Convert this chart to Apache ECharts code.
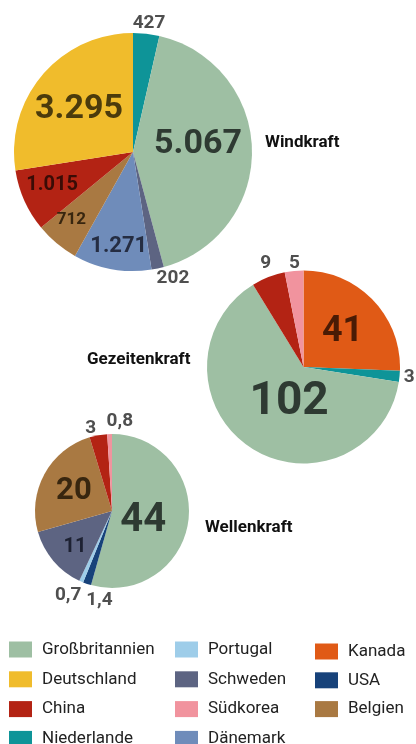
<!DOCTYPE html>
<html>
<head>
<meta charset="utf-8">
<script src="https://cdn.jsdelivr.net/npm/echarts@6/dist/echarts.min.js"></script>
<style>
  html, body { margin: 0; padding: 0; background: #fff; }
  #chart { width: 416px; height: 744px; }
</style>
</head>
<body>
<div id="chart"></div>
<script>
// Installed capacity by country (MW) for wind, tidal and wave power
const windCountries = ['Niederlande', 'Großbritannien', 'Schweden', 'Dänemark', 'Belgien', 'China', 'Deutschland'];
const windValues = [427, 5067, 202, 1271, 712, 1015, 3295];
const windLabels = ['427', '5.067', '202', '1.271', '712', '1.015', '3.295'];

const tidalCountries = ['Kanada', 'Niederlande', 'Großbritannien', 'China', 'Südkorea'];
const tidalValues = [41, 3, 102, 9, 5];
const tidalLabels = ['41', '3', '102', '9', '5'];

const waveCountries = ['Großbritannien', 'USA', 'Portugal', 'Schweden', 'Belgien', 'China', 'Südkorea'];
const waveValues = [44, 1.4, 0.7, 11, 20, 3, 0.8];
const waveLabels = ['44', '1,4', '0,7', '11', '20', '3', '0,8'];

const legendCol1 = ['Großbritannien', 'Deutschland', 'China', 'Niederlande'];
const legendCol2 = ['Portugal', 'Schweden', 'Südkorea', 'Dänemark'];
const legendCol3 = ['Kanada', 'USA', 'Belgien'];

const colors = {
  'Großbritannien': '#9ebfa3',
  'Deutschland': '#f0bc2c',
  'China': '#b32314',
  'Niederlande': '#0e9498',
  'Portugal': '#9ecde9',
  'Schweden': '#5d6482',
  'Südkorea': '#f1939e',
  'Dänemark': '#6f8cba',
  'Kanada': '#e05a16',
  'USA': '#17427a',
  'Belgien': '#a97942'
};
// darker tone used for numbers printed on a slice
const inkColors = {
  'Großbritannien': '#2e3a32',
  'Deutschland': '#4b3b0c',
  'China': '#3a0c06',
  'Dänemark': '#252d42',
  'Belgien': '#38260f',
  'Kanada': '#4a1b05',
  'Schweden': '#1d2132'
};

const FONT = 'Roboto, "Liberation Sans", sans-serif';

// label placement: [radius factor, angle shift in degrees, font size, inside?]
const windPlace = [[1.09, -0.7, 19, false], [0.55, 5.9, 34, true], [1.11, 5.6, 19, false], [0.8, 1.5, 22, true], [0.77, -2.3, 17, true], [0.735, -1.7, 20, true], [0.58, 2, 34, true]];
const tidalPlace = [[0.545, -1.8, 36, true], [1.1, 0.3, 19, false], [0.4, 11.9, 46, true], [1.144, -1.3, 19, false], [1.08, -0.7, 19, false]];
const wavePlace = [[0.426, -9.5, 40, true], [1.17, 10.9, 19, false], [1.23, -4, 19, false], [0.675, 4.2, 20, true], [0.56, 0.7, 31, true], [1.11, 4.2, 19, false], [1.164, -6.8, 19, false]];

const pies = [
  { names: windCountries, values: windValues, labels: windLabels, place: windPlace, center: [133, 152], radius: 119 },
  { names: tidalCountries, values: tidalValues, labels: tidalLabels, place: tidalPlace, center: [303.5, 367], radius: 96.5 },
  { names: waveCountries, values: waveValues, labels: waveLabels, place: wavePlace, center: [112, 511], radius: 77 }
];

// mid angle (degrees, counter-clockwise from +x) of each slice, laid out clockwise from 12 o'clock
function midAngles(values) {
  const total = values.reduce((a, b) => a + b, 0);
  let start = 90;
  return values.map(v => {
    const span = v / total * 360;
    const mid = start - span / 2;
    start -= span;
    return mid;
  });
}

const series = pies.map(p => {
  const mids = midAngles(p.values);
  return {
    type: 'pie',
    center: p.center,
    radius: [0, p.radius],
    startAngle: 90,
    clockwise: true,
    avoidLabelOverlap: false,
    animation: false,
    silent: true,
    labelLine: { show: false },
    itemStyle: { borderWidth: 0 },
    data: p.names.map((n, i) => {
      const pl = p.place[i];
      return {
        name: n,
        value: p.values[i],
        itemStyle: { color: colors[n] },
        label: {
          show: true,
          position: 'inside',
          formatter: p.labels[i],
          fontFamily: FONT,
          fontWeight: 'bold',
          fontSize: pl[2],
          color: pl[3] ? inkColors[n] : '#4f4f4f'
        }
      };
    }),
    labelLayout: function (params) {
      const pl = p.place[params.dataIndex];
      const a = (mids[params.dataIndex] + pl[1]) * Math.PI / 180;
      return {
        x: p.center[0] + pl[0] * p.radius * Math.cos(a),
        y: p.center[1] - pl[0] * p.radius * Math.sin(a),
        align: 'center',
        verticalAlign: 'middle'
      };
    }
  };
});

const legendBase = {
  orient: 'vertical',
  icon: 'rect',
  itemWidth: 23,
  itemHeight: 16,
  itemGap: 12.8,
  height: 110,
  selectedMode: false,
  textStyle: { fontFamily: FONT, fontSize: 17, lineHeight: 16, color: '#222', padding: [0, 0, 0, 5] },
  padding: 0
};

const chart = echarts.init(document.getElementById('chart'), null, { renderer: 'canvas' });
chart.setOption({
  backgroundColor: '#fff',
  animation: false,
  legend: [
    Object.assign({}, legendBase, { data: legendCol1, left: 9, top: 641 }),
    Object.assign({}, legendBase, { data: legendCol2, left: 175, top: 641 }),
    Object.assign({}, legendBase, { data: legendCol3, left: 315, top: 643, itemGap: 11.8 })
  ],
  graphic: [
    { type: 'text', left: 265, top: 134.5, style: { text: 'Windkraft', font: 'bold 17px ' + FONT, fill: '#111' } },
    { type: 'text', left: 87, top: 351.5, style: { text: 'Gezeitenkraft', font: 'bold 17px ' + FONT, fill: '#111' } },
    { type: 'text', left: 205, top: 519.5, style: { text: 'Wellenkraft', font: 'bold 17px ' + FONT, fill: '#111' } }
  ],
  series: series
});
</script>
</body>
</html>
